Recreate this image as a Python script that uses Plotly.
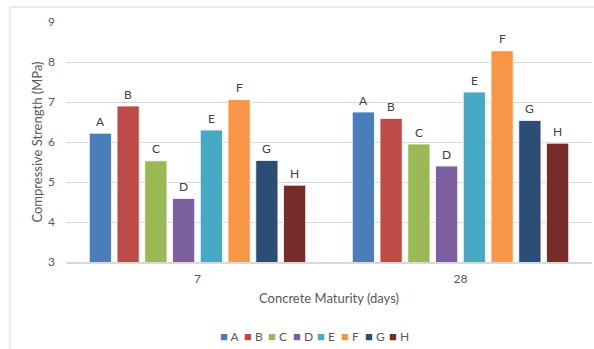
import plotly.graph_objects as go

# Compressive strength of mixes A–H at two maturity ages
maturity_days = ["7", "28"]
mixes = ["A", "B", "C", "D", "E", "F", "G", "H"]
strength_7 = [6.22, 6.90, 5.53, 4.59, 6.30, 7.06, 5.54, 4.92]
strength_28 = [6.75, 6.59, 5.95, 5.40, 7.25, 8.28, 6.54, 5.97]
mix_colors = ["#4A7EBB", "#BE4B48", "#98B954", "#7D60A0",
              "#46AAC5", "#F79646", "#2C4D75", "#772C2A"]
y_ticks = [3, 4, 5, 6, 7, 8, 9]

W, H = 594, 349
L, R, T, B = 66, 2, 22, 87
plot_w = W - L - R
plot_h = H - T - B
BARGAP = 0.156
BARGROUPGAP = 0.2


def px_x(x):
    return (x - L) / plot_w


def px_y(y):
    return (H - B - y) / plot_h


FONT = "Lato, 'Noto Sans', sans-serif"

fig = go.Figure()
slot = (1 - BARGAP) / len(mixes)
for i, mix in enumerate(mixes):
    vals = [strength_7[i], strength_28[i]]
    fig.add_trace(go.Bar(
        name=mix,
        x=maturity_days,
        y=vals,
        marker=dict(color=mix_colors[i], line=dict(color="white", width=0.8)),
        showlegend=False,
    ))
    # series name floating above each bar
    offset = (i - (len(mixes) - 1) / 2) * slot
    for c, v in enumerate(vals):
        fig.add_annotation(
            x=c + offset, y=v, xref="x", yref="y",
            text=mix, showarrow=False, yanchor="middle", yshift=12,
            font=dict(family=FONT, size=12, color="#404040"),
        )

# legend row drawn as text swatches
legend_left = 218
legend_pitch = 24.2
for i, mix in enumerate(mixes):
    fig.add_annotation(
        xref="paper", yref="paper",
        x=px_x(legend_left + i * legend_pitch), y=px_y(336),
        xanchor="left", yanchor="middle", showarrow=False,
        text=f"<span style='color:{mix_colors[i]};font-size:13px'>■</span> {mix}",
        font=dict(family=FONT, size=12, color="#595959"),
    )

# outer chart frame
fig.add_shape(
    type="rect", xref="paper", yref="paper",
    x0=px_x(10), x1=px_x(W + 20), y0=px_y(H + 20), y1=px_y(7),
    line=dict(color="#D9D9D9", width=1), fillcolor="rgba(0,0,0,0)",
    layer="below",
)

fig.update_layout(
    width=W, height=H,
    margin=dict(l=L, r=R, t=T, b=B),
    paper_bgcolor="white", plot_bgcolor="white",
    barmode="group", bargap=BARGAP, bargroupgap=BARGROUPGAP,
    font=dict(family=FONT, color="#595959"),
    xaxis=dict(
        type="category", showgrid=False, showline=True,
        linecolor="#D9D9D9", linewidth=1.5, ticks="",
        ticklabelstandoff=5,
        tickfont=dict(family=FONT, size=12, color="#595959"),
        title=dict(text="Concrete Maturity (days)", standoff=9,
                   font=dict(family=FONT, size=13, color="#595959")),
    ),
    yaxis=dict(
        range=[3, 9], tickvals=y_ticks,
        showgrid=True, gridcolor="#D9D9D9", gridwidth=1,
        zeroline=False, showline=False, ticks="",
        ticklabelstandoff=10,
        tickfont=dict(family=FONT, size=12, color="#595959"),
        title=dict(text="Compressive Strength (MPa)", standoff=2,
                   font=dict(family=FONT, size=13, color="#595959")),
    ),
)

fig.write_html("out.html")
